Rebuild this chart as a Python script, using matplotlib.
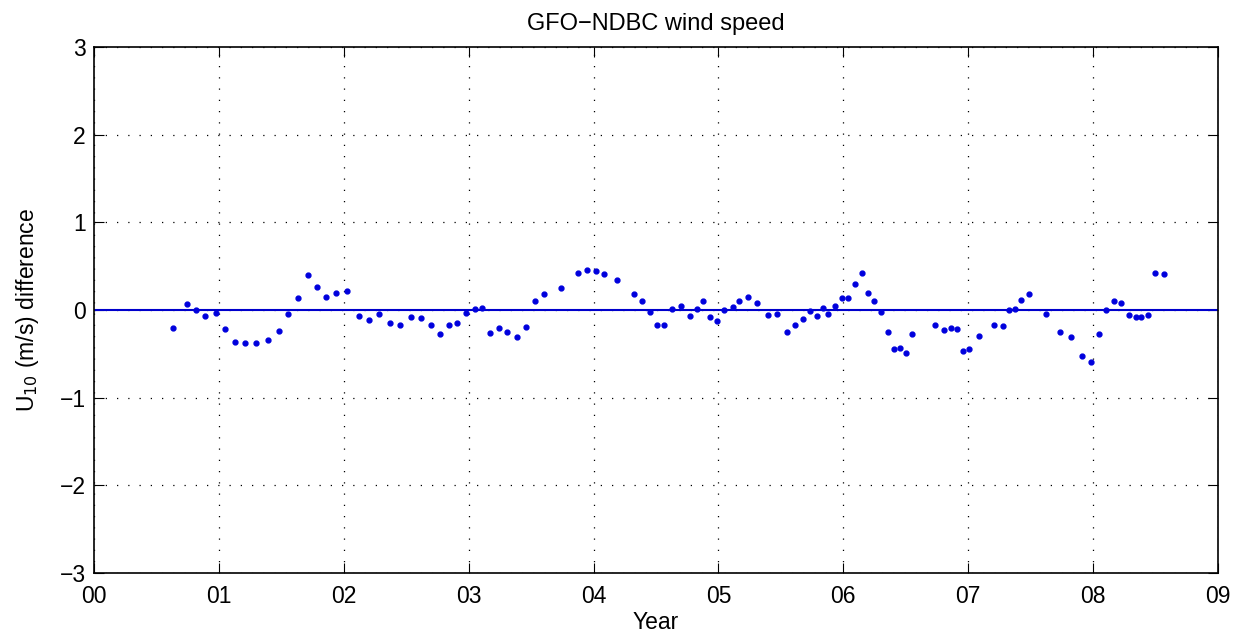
import matplotlib
matplotlib.use('Agg')
import matplotlib.pyplot as plt
import numpy as np

# monthly mean difference, years since 2000
year = [0.629, 0.744, 0.819, 0.893, 0.976, 1.05, 1.13, 1.21, 1.30, 1.392,
        1.478, 1.552, 1.63, 1.712, 1.787, 1.861, 1.94, 2.03, 2.12, 2.20,
        2.28, 2.37, 2.448, 2.536, 2.62, 2.70, 2.77, 2.84, 2.91, 2.976,
        3.05, 3.11, 3.17, 3.246, 3.31, 3.384, 3.456, 3.528, 3.60, 3.74,
        3.872, 3.95, 4.02, 4.08, 4.19, 4.326, 4.39, 4.45, 4.51, 4.568,
        4.632, 4.70, 4.77, 4.827, 4.88, 4.93, 4.99, 5.045, 5.114, 5.168,
        5.24, 5.31, 5.40, 5.47, 5.546, 5.61, 5.678, 5.736, 5.79, 5.834,
        5.877, 5.93, 5.986, 6.04, 6.09, 6.146, 6.20, 6.248, 6.30, 6.354,
        6.405, 6.454, 6.50, 6.55, 6.736, 6.81, 6.86, 6.91, 6.958, 7.01,
        7.086, 7.21, 7.28, 7.33, 7.378, 7.42, 7.488, 7.62, 7.736, 7.826,
        7.914, 7.98, 8.046, 8.106, 8.166, 8.224, 8.286, 8.346, 8.386, 8.438,
        8.496, 8.57]
diff = [-0.21, 0.064, 0.00, -0.065, -0.03, -0.22, -0.37, -0.38, -0.375, -0.344,
        -0.237, -0.05, 0.133, 0.397, 0.263, 0.145, 0.198, 0.217, -0.073, -0.111,
        -0.05, -0.149, -0.165, -0.08, -0.096, -0.172, -0.275, -0.168, -0.149, -0.038,
        0.011, 0.019, -0.26, -0.206, -0.245, -0.302, -0.188, 0.099, 0.183, 0.248,
        0.42, 0.454, 0.446, 0.412, 0.343, 0.187, 0.107, -0.02, -0.168, -0.176,
        0.01, 0.049, -0.065, 0.01, 0.099, -0.076, -0.123, 0.004, 0.038, 0.099,
        0.149, 0.076, -0.061, -0.046, -0.245, -0.176, -0.107, -0.008, -0.069, 0.019,
        -0.05, 0.046, 0.137, 0.137, 0.293, 0.42, 0.195, 0.103, -0.02, -0.249,
        -0.44, -0.43, -0.489, -0.271, -0.168, -0.233, -0.199, -0.214, -0.47, -0.45,
        -0.294, -0.168, -0.18, 0.0, 0.015, 0.118, 0.183, -0.046, -0.245, -0.31,
        -0.523, -0.588, -0.271, 0.0, 0.103, 0.08, -0.061, -0.08, -0.08, -0.057,
        0.42, 0.412]

xticks = np.arange(0, 10)
yticks = np.arange(-3, 4)

plt.rcParams['font.family'] = ['Liberation Sans', 'DejaVu Sans']

fig = plt.figure(figsize=(12.33, 6.37), dpi=100)
ax = fig.add_axes([0.0762, 0.1005, 0.9116, 0.8255])

ax.axhline(0, color='#0000cc', lw=1.5, zorder=2)
ax.plot(year, diff, '.', color='#0000dd', ms=7, zorder=3)

ax.set_xlim(0, 9)
ax.set_ylim(-3, 3)
ax.set_xticks(xticks)
ax.set_xticklabels(['%02d' % v for v in xticks])
ax.set_yticks(yticks)
ax.tick_params(direction='in', length=7, labelsize=16.5, top=True, right=True)
ax.tick_params(axis='x', pad=9)
ax.tick_params(axis='y', pad=6)
ax.grid(True, linestyle=(0, (1, 8)), color='k', lw=0.9)
for s in ax.spines.values():
    s.set_linewidth(1.2)

ax.set_title('GFO\u2212NDBC wind speed', fontsize=17, pad=12)
ax.set_xlabel('Year', fontsize=16.5, labelpad=2)
ax.set_ylabel('U$_{10}$ (m/s) difference', fontsize=16.5, labelpad=13)

plt.savefig('out.png')
